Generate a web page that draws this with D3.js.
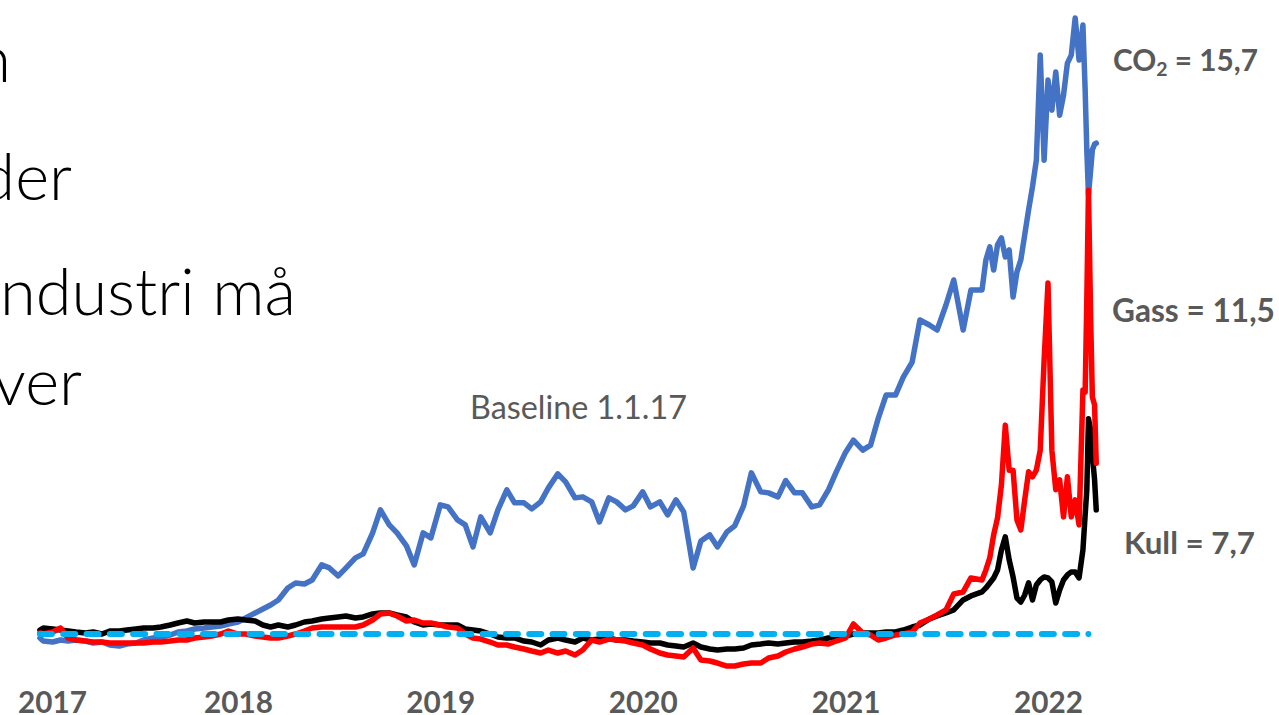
<!DOCTYPE html>
<html lang="no">
<head>
<meta charset="UTF-8" />
<title>CO2, gass og kull siden 1.1.17</title>
<script src="https://d3js.org/d3.v7.min.js"></script>
<style>
  body { margin: 0; background: #fff; }
  svg { display: block; }
  .slide { font-family: Lato, "Open Sans", sans-serif; font-weight: 300; fill: #000; }
  .endlabel, .year text { font-family: Lato, "Open Sans", sans-serif; font-weight: 700; fill: #595959; }
  .note { font-family: Lato, "Open Sans", sans-serif; font-weight: 400; fill: #595959; }
</style>
</head>
<body>
<svg id="chart" width="1279" height="715"></svg>
<script>
// semi-monthly until Aug 2021, weekly after that, denser in March 2022
const dates = [
  "2017-01-09","2017-01-15","2017-02-01","2017-02-15","2017-03-01","2017-03-15","2017-04-01","2017-04-15","2017-05-01","2017-05-15","2017-06-01","2017-06-15",
  "2017-07-01","2017-07-15","2017-08-01","2017-08-15","2017-09-01","2017-09-15","2017-10-01","2017-10-15","2017-11-01","2017-11-15","2017-12-01","2017-12-15",
  "2018-01-01","2018-01-15","2018-02-01","2018-02-15","2018-03-01","2018-03-15","2018-04-01","2018-04-15","2018-05-01","2018-05-15","2018-06-01","2018-06-15",
  "2018-07-01","2018-07-15","2018-08-01","2018-08-15","2018-09-01","2018-09-15","2018-10-01","2018-10-15","2018-11-01","2018-11-15","2018-12-01","2018-12-15",
  "2019-01-01","2019-01-15","2019-02-01","2019-02-15","2019-03-01","2019-03-15","2019-04-01","2019-04-15","2019-05-01","2019-05-15","2019-06-01","2019-06-15",
  "2019-07-01","2019-07-15","2019-08-01","2019-08-15","2019-09-01","2019-09-15","2019-10-01","2019-10-15","2019-11-01","2019-11-15","2019-12-01","2019-12-15",
  "2020-01-01","2020-01-15","2020-02-01","2020-02-15","2020-03-01","2020-03-15","2020-04-01","2020-04-15","2020-05-01","2020-05-15","2020-06-01","2020-06-15",
  "2020-07-01","2020-07-15","2020-08-01","2020-08-15","2020-09-01","2020-09-15","2020-10-01","2020-10-15","2020-11-01","2020-11-15","2020-12-01","2020-12-15",
  "2021-01-01","2021-01-15","2021-02-01","2021-02-15","2021-03-01","2021-03-15","2021-04-01","2021-04-15","2021-05-01","2021-05-15","2021-06-01","2021-06-15",
  "2021-07-01","2021-07-15","2021-08-01","2021-08-15",
  "2021-09-04","2021-09-11","2021-09-18","2021-09-25","2021-10-02","2021-10-09","2021-10-16","2021-10-23","2021-10-30","2021-11-06","2021-11-13","2021-11-20","2021-11-27",
  "2021-12-04","2021-12-11","2021-12-18","2021-12-25","2022-01-01","2022-01-08","2022-01-15","2022-01-22","2022-01-29","2022-02-05","2022-02-12","2022-02-19","2022-02-26",
  "2022-03-05","2022-03-09","2022-03-12","2022-03-15","2022-03-19","2022-03-22","2022-03-26","2022-03-29"
];

// index, 1.1.17 = 1
const co2 = [
  0.88,0.79,0.76,0.82,0.79,0.82,0.79,0.73,0.76,0.67,0.64,0.70,0.73,0.82,0.88,0.91,0.97,1.06,1.09,1.15,1.18,1.21,1.24,1.30,
  1.36,1.48,1.63,1.75,1.87,2.02,2.38,2.53,2.50,2.62,3.07,2.98,2.74,2.98,3.28,3.40,4.03,4.72,4.27,4.03,3.64,3.07,4.03,3.88,
  4.87,4.81,4.42,4.27,3.61,4.51,4.03,4.72,5.32,4.93,4.93,4.75,4.96,5.38,5.80,5.56,5.08,5.11,4.96,4.36,5.08,4.96,4.72,4.84,
  5.26,4.81,4.96,4.57,5.02,4.66,2.98,3.79,3.97,3.61,4.06,4.24,4.84,5.83,5.26,5.23,5.11,5.60,5.23,5.23,4.81,4.87,5.32,5.85,
  6.45,6.81,6.51,6.66,7.47,8.16,8.16,8.70,9.15,10.41,10.26,10.11,10.86,11.61,10.11,11.31,
  11.31,12.21,12.60,11.91,12.66,12.87,12.30,12.51,11.10,11.85,12.21,12.96,13.71,14.40,15.20,18.35,15.20,17.60,16.70,17.84,16.55,17.15,18.11,18.35,19.46,18.20,
  19.25,17.30,15.50,14.16,14.91,15.51,15.68,15.71
];
const gass = [
  1.03,1.00,1.06,1.18,0.88,0.82,0.79,0.76,0.76,0.73,0.73,0.73,0.73,0.73,0.76,0.76,0.79,0.82,0.82,0.88,0.91,0.94,1.00,1.09,
  1.00,1.00,0.94,0.91,0.88,0.88,0.94,1.00,1.09,1.18,1.21,1.21,1.21,1.21,1.21,1.27,1.42,1.60,1.63,1.54,1.39,1.42,1.33,1.33,
  1.27,1.21,1.18,1.00,0.88,0.85,0.76,0.67,0.67,0.61,0.55,0.49,0.43,0.52,0.43,0.49,0.37,0.52,0.82,0.76,0.85,0.82,0.79,0.73,
  0.67,0.55,0.43,0.37,0.34,0.31,0.58,0.22,0.19,0.13,0.04,0.04,0.10,0.13,0.13,0.28,0.34,0.46,0.55,0.61,0.70,0.73,0.70,0.79,
  0.88,1.30,1.03,0.97,0.82,0.88,0.97,1.00,1.06,1.33,1.45,1.57,1.72,2.20,2.26,2.68,
  2.62,2.92,3.28,3.97,4.48,5.47,7.26,5.91,5.91,4.42,4.12,5.02,5.86,5.71,5.91,6.51,9.21,11.52,6.51,5.32,5.62,4.51,5.71,4.51,5.02,4.27,
  8.31,8.25,11.01,14.30,10.41,8.10,7.86,6.12
];
const kull = [
  1.12,1.18,1.15,1.12,1.09,1.06,1.03,1.06,1.00,1.09,1.09,1.12,1.15,1.18,1.18,1.21,1.27,1.33,1.39,1.33,1.36,1.36,1.36,1.42,
  1.45,1.42,1.39,1.27,1.21,1.27,1.21,1.27,1.36,1.39,1.45,1.48,1.51,1.54,1.48,1.51,1.60,1.63,1.63,1.57,1.51,1.36,1.27,1.30,
  1.27,1.27,1.27,1.15,1.12,1.09,1.00,0.91,0.88,0.88,0.79,0.76,0.67,0.82,0.88,0.82,0.76,0.88,0.82,0.85,0.88,0.82,0.82,0.79,
  0.76,0.73,0.73,0.67,0.64,0.61,0.73,0.61,0.55,0.52,0.55,0.55,0.58,0.67,0.70,0.73,0.70,0.73,0.76,0.76,0.79,0.82,0.88,0.91,
  0.94,1.00,1.03,1.03,1.03,1.06,1.06,1.12,1.21,1.27,1.45,1.54,1.63,1.72,2.02,2.14,
  2.26,2.38,2.53,2.68,2.92,3.52,3.91,3.22,2.71,2.08,1.96,2.17,2.53,2.02,2.47,2.62,2.71,2.68,2.56,1.93,2.32,2.62,2.77,2.86,2.86,2.68,
  3.52,4.57,5.32,7.45,7.11,6.36,5.62,4.72
];
const years = ["2017-01-01","2018-01-01","2019-01-01","2020-01-01","2021-01-01","2022-01-01"];
const slideLines = ["n", "der", "ndustri må", "ver"];

const parse = d3.timeParse("%Y-%m-%d");
const svg = d3.select("#chart");

const x = d3.scaleTime()
  .domain([parse("2017-01-01"), parse("2022-01-01")])
  .range([35.5, 1048]);
const y = d3.scaleLinear().domain([1, 15.7]).range([634, 143.5]);

// slide text cut off at the left edge
const slidePos = [[11, 82], [72, 200], [296, 315], [82, 405]];
const slide = svg.append("g").attr("class", "slide");
slide.selectAll("text")
  .data(slideLines)
  .join("text")
  .attr("x", (d, i) => slidePos[i][0])
  .attr("y", (d, i) => slidePos[i][1])
  .attr("text-anchor", "end")
  .attr("font-size", 50)
  .text(d => d);
const ref = slide.selectAll("text").filter((d, i) => i === 2).node();
const slideSize = 50 * 296 / ref.getComputedTextLength();
slide.selectAll("text").attr("font-size", slideSize);

function fit(sel, w) {
  const len = sel.node().getComputedTextLength();
  sel.attr("font-size", +sel.attr("font-size") * w / len);
}

// x axis, year labels only
const axis = svg.append("g")
  .attr("class", "year")
  .attr("transform", "translate(0,713)")
  .call(d3.axisBottom(x).tickValues(years.map(parse)).tickFormat(d3.timeFormat("%Y")).tickSize(0));
axis.select(".domain").remove();
axis.selectAll("text").attr("y", 0).attr("dy", 0).attr("font-size", 30);
const yearSize = 30 * 69 / axis.select(".tick text").node().getComputedTextLength();
axis.selectAll("text").attr("font-size", yearSize);
axis.selectAll("text").filter((d, i) => i === 0).attr("dx", 16.5);

const rows = dates.map((d, i) => ({ date: parse(d), co2: co2[i], gass: gass[i], kull: kull[i] }));

const series = [
  { key: "co2", color: "#4472C4" },
  { key: "kull", color: "#000000" },
  { key: "gass", color: "#FF0000" }
];

series.forEach(s => {
  const line = d3.line().x(d => x(d.date)).y(d => y(d[s.key]));
  svg.append("path")
    .datum(rows)
    .attr("fill", "none")
    .attr("stroke", s.color)
    .attr("stroke-width", 5.5)
    .attr("stroke-linejoin", "round")
    .attr("stroke-linecap", "round")
    .attr("d", line);
});

// baseline at index 1
const first = rows[0].date, last = rows[rows.length - 1].date;
svg.append("path")
  .datum([first, d3.timeDay.offset(last, -14)])
  .attr("fill", "none")
  .attr("stroke", "#00B0F0")
  .attr("stroke-width", 6)
  .attr("stroke-linecap", "round")
  .attr("stroke-dasharray", "12 11.3")
  .attr("d", d3.line().x(d => x(d)).y(() => y(1)));

const note = svg.append("text")
  .attr("class", "note")
  .attr("x", 470).attr("y", 419)
  .attr("font-size", 26)
  .text("Baseline 1.1.17");
fit(note, 217);

// end labels
const co2Label = svg.append("text")
  .attr("class", "endlabel")
  .attr("x", 1113).attr("y", 71)
  .attr("font-size", 30);
co2Label.append("tspan").text("CO");
co2Label.append("tspan").attr("font-size", "65%").attr("baseline-shift", "-25%").text("2");
co2Label.append("tspan").text(" = 15,7");
fit(co2Label, 145);

const gassLabel = svg.append("text")
  .attr("class", "endlabel")
  .attr("x", 1112).attr("y", 322)
  .attr("font-size", 30)
  .text("Gass = 11,5");
fit(gassLabel, 163);

const kullLabel = svg.append("text")
  .attr("class", "endlabel")
  .attr("x", 1124).attr("y", 554)
  .attr("font-size", 30)
  .text("Kull = 7,7");
fit(kullLabel, 131);
</script>
</body>
</html>
